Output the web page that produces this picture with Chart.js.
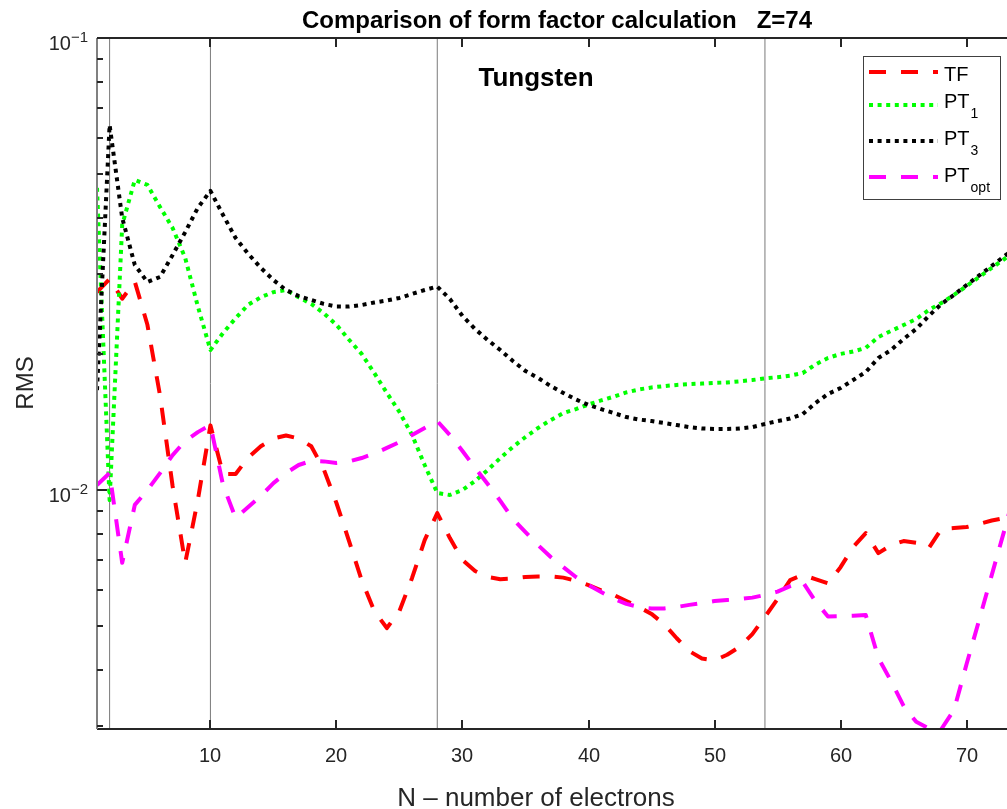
<!DOCTYPE html>
<html>
<head>
<meta charset="utf-8">
<script src="https://cdn.jsdelivr.net/npm/chart.js@4"></script>
<style>
  html, body { margin: 0; padding: 0; overflow: hidden; background: #fff; }
  #wrap { width: 1030px; height: 809px; }
</style>
</head>
<body>
<div id="wrap"><canvas id="rmsChart"></canvas></div>
<script>
// N - number of electrons
const electrons = [1, 2, 3, 4, 5, 6, 7, 8, 9, 10, 11, 12, 13, 14, 15, 16, 17, 18, 19, 20,
  21, 22, 23, 24, 25, 26, 27, 28, 29, 30, 31, 32, 33, 34, 35, 36, 37, 38, 39, 40,
  41, 42, 43, 44, 45, 46, 47, 48, 49, 50, 51, 52, 53, 54, 55, 56, 57, 58, 59, 60,
  61, 62, 63, 64, 65, 66, 67, 68, 69, 70, 71, 72, 73, 74];

// RMS values
const rmsTF = [0.0274, 0.0293, 0.0265, 0.0289, 0.0232, 0.0162, 0.0102, 0.0069, 0.0095, 0.0139,
  0.01085, 0.01085, 0.0118, 0.0125, 0.0130, 0.0132, 0.0130, 0.0125, 0.0111, 0.00936,
  0.00771, 0.00632, 0.0054, 0.00495, 0.0054, 0.00639, 0.00775, 0.00889, 0.00783, 0.0070,
  0.00662, 0.00642, 0.00635, 0.00637, 0.00642, 0.00644, 0.00644, 0.0064, 0.0063, 0.00616,
  0.0060, 0.00586, 0.00568, 0.00551, 0.00532, 0.00505, 0.0047, 0.0044, 0.00424, 0.0042,
  0.00432, 0.0045, 0.0048, 0.00524, 0.00574, 0.00632, 0.00649, 0.00635, 0.00622, 0.00675,
  0.00748, 0.00803, 0.00725, 0.00755, 0.00771, 0.00764, 0.00744, 0.0082, 0.00824, 0.00828,
  0.00841, 0.00856, 0.00867, 0.00876];

const rmsPT1 = [0.0466, 0.0095, 0.0386, 0.0485, 0.0473, 0.0423, 0.0380, 0.0326, 0.0255, 0.0204,
  0.02225, 0.0240, 0.0257, 0.0267, 0.0274, 0.0277, 0.0267, 0.0258, 0.0246, 0.0232,
  0.0215, 0.0200, 0.01815, 0.0164, 0.01488, 0.01323, 0.01136, 0.00985, 0.00975, 0.0100,
  0.01047, 0.01107, 0.01177, 0.01245, 0.0131, 0.01372, 0.01428, 0.0148, 0.0151, 0.01546,
  0.01578, 0.01609, 0.01644, 0.01669, 0.01686, 0.01698, 0.01708, 0.01715, 0.0172, 0.01726,
  0.0173, 0.0174, 0.01751, 0.01766, 0.01777, 0.01791, 0.01815, 0.01895, 0.01959, 0.0200,
  0.02025, 0.02062, 0.0218, 0.02248, 0.02317, 0.02389, 0.02501, 0.02593, 0.02701, 0.02826,
  0.0296, 0.0310, 0.03244, 0.03396];

const rmsPT3 = [0.01664, 0.0642, 0.0400, 0.03147, 0.02885, 0.0296, 0.0331, 0.0372, 0.0421, 0.0459,
  0.0406, 0.0361, 0.0333, 0.0310, 0.02915, 0.0277, 0.02686, 0.02633, 0.0258, 0.02547,
  0.02546, 0.02566, 0.02599, 0.02626, 0.0266, 0.02715, 0.0277, 0.02819, 0.02646, 0.02427,
  0.02271, 0.02147, 0.0204, 0.01929, 0.01833, 0.0177, 0.01698, 0.0164, 0.01586, 0.01542,
  0.0151, 0.0148, 0.0145, 0.01432, 0.01421, 0.01407, 0.01392, 0.01378, 0.01368, 0.01365,
  0.01365, 0.01368, 0.01378, 0.0140, 0.01421, 0.01439, 0.01472, 0.01557, 0.01631, 0.01681,
  0.01751, 0.01824, 0.01959, 0.0204, 0.02158, 0.02271, 0.02427, 0.0258, 0.02701, 0.02841,
  0.02983, 0.03131, 0.03293, 0.03448];

const rmsPTopt = [0.01026, 0.0109, 0.0069, 0.00927, 0.0100, 0.0109, 0.01195, 0.01284, 0.01343, 0.01392,
  0.01026, 0.00867, 0.00917, 0.0097, 0.01036, 0.0109, 0.01136, 0.0116, 0.01157, 0.01148,
  0.01157, 0.01177, 0.01204, 0.01239, 0.01277, 0.01323, 0.01372, 0.01421, 0.01323, 0.0122,
  0.01119, 0.01031, 0.00946, 0.00863, 0.00807, 0.00755, 0.00711, 0.00675, 0.00642, 0.00616,
  0.00595, 0.00575, 0.0056, 0.00551, 0.00547, 0.00547, 0.00551, 0.00557, 0.00562, 0.00568,
  0.00571, 0.00574, 0.00578, 0.00586, 0.00596, 0.00613, 0.00626, 0.00568, 0.00525, 0.00526,
  0.00527, 0.00529, 0.00425, 0.00378, 0.00333, 0.00307, 0.00297, 0.00296, 0.00326, 0.00412,
  0.00516, 0.00649, 0.00815, 0.0103];

// closed shells marked with vertical lines
const shellClosures = [2, 10, 28, 54];

// axis limits and ticks
const xMin = 1, xMax = 74;
const yMin = 0.00296, yMax = 0.1;
const xTicks = [10, 20, 30, 40, 50, 60, 70];
const yMajorTicks = [0.01, 0.1];
const yMajorExp = ['\u22122', '\u22121'];
const yMinorTicks = [0.003, 0.004, 0.005, 0.006, 0.007, 0.008, 0.009,
  0.02, 0.03, 0.04, 0.05, 0.06, 0.07, 0.08, 0.09];

const FONT = "'Liberation Sans', Arial, Helvetica, sans-serif";

const toPoints = arr => arr.map((v, i) => ({ x: electrons[i], y: v }));

const series = [
  { label: 'TF', sub: '', data: rmsTF, color: '#ff0000', dash: [17, 15], order: 4 },
  { label: 'PT', sub: '1', data: rmsPT1, color: '#00ff00', dash: [4, 4.6], order: 3 },
  { label: 'PT', sub: '3', data: rmsPT3, color: '#000000', dash: [4, 4.6], order: 2 },
  { label: 'PT', sub: 'opt', data: rmsPTopt, color: '#ff00ff', dash: [17, 15], order: 1 }
];

const datasets = series.map(s => ({
  label: s.label + s.sub,
  data: toPoints(s.data),
  borderColor: s.color,
  borderWidth: 4,
  borderDash: s.dash,
  borderJoinStyle: 'round',
  pointRadius: 0,
  tension: 0,
  fill: false,
  order: s.order
}));

shellClosures.forEach(n => {
  datasets.push({
    label: 'shell ' + n,
    data: [{ x: n, y: yMin }, { x: n, y: yMax }],
    borderColor: '#7a7a7a',
    borderWidth: 1,
    pointRadius: 0,
    order: 10
  });
});

// draws the MATLAB-like frame, ticks, labels and legend
const matlabFrame = {
  id: 'matlabFrame',
  afterDatasetsDraw(chart) {
    const { ctx, chartArea: a, scales: { x, y } } = chart;
    ctx.save();

    // axes box
    ctx.lineWidth = 2;
    ctx.strokeStyle = '#262626';
    ctx.beginPath();
    ctx.moveTo(a.left, a.top); ctx.lineTo(a.right, a.top);
    ctx.moveTo(a.left, a.bottom); ctx.lineTo(a.right, a.bottom);
    ctx.stroke();
    ctx.strokeStyle = '#808080';
    ctx.beginPath();
    ctx.moveTo(a.left, a.top); ctx.lineTo(a.left, a.bottom);
    ctx.stroke();

    // x ticks (inward, bottom and top)
    ctx.strokeStyle = '#262626';
    ctx.lineWidth = 2;
    ctx.fillStyle = '#262626';
    ctx.font = '20px ' + FONT;
    ctx.textAlign = 'center';
    ctx.textBaseline = 'alphabetic';
    xTicks.forEach(t => {
      const px = Math.round(x.getPixelForValue(t));
      ctx.beginPath();
      ctx.moveTo(px, a.bottom); ctx.lineTo(px, a.bottom - 9);
      ctx.moveTo(px, a.top); ctx.lineTo(px, a.top + 9);
      ctx.stroke();
      ctx.fillText(String(t), px, a.bottom + 33);
    });

    // y ticks (inward, left)
    yMinorTicks.forEach(t => {
      const py = Math.round(y.getPixelForValue(t));
      ctx.beginPath();
      ctx.moveTo(a.left, py); ctx.lineTo(a.left + 6, py);
      ctx.stroke();
    });
    yMajorTicks.forEach((t, i) => {
      const py = Math.round(y.getPixelForValue(t));
      ctx.beginPath();
      ctx.moveTo(a.left, py); ctx.lineTo(a.left + 10, py);
      ctx.stroke();
      ctx.textAlign = 'right';
      ctx.font = '15px ' + FONT;
      const supW = ctx.measureText(yMajorExp[i]).width;
      const right = a.left - 9;
      ctx.fillText(yMajorExp[i], right, py + 4);
      ctx.font = '20px ' + FONT;
      ctx.fillText('10', right - supW, py + 12);
    });

    // axis labels
    ctx.fillStyle = '#262626';
    ctx.textAlign = 'center';
    ctx.font = '26px ' + FONT;
    ctx.fillText('N \u2013 number of electrons', 536, 806);
    ctx.save();
    ctx.translate(33, 383);
    ctx.rotate(-Math.PI / 2);
    ctx.font = '24px ' + FONT;
    ctx.fillText('RMS', 0, 0);
    ctx.restore();

    // title and annotation
    ctx.fillStyle = '#000';
    ctx.font = 'bold 24px ' + FONT;
    ctx.fillText('Comparison of form factor calculation   Z=74', (a.left + a.right) / 2, 28);
    ctx.font = 'bold 26px ' + FONT;
    ctx.fillText('Tungsten', 536, 86);

    // legend
    const lx = 863, ly = 56, lw = 137, lh = 143;
    ctx.fillStyle = '#fff';
    ctx.fillRect(lx, ly, lw, lh);
    ctx.strokeStyle = '#404040';
    ctx.lineWidth = 1;
    ctx.strokeRect(lx + 0.5, ly + 0.5, lw, lh);
    const rowY = [72, 105, 141, 177];
    const textY = [81, 108, 145, 182];
    series.forEach((s, i) => {
      ctx.strokeStyle = s.color;
      ctx.lineWidth = 4;
      ctx.setLineDash(s.dash);
      ctx.beginPath();
      ctx.moveTo(869, rowY[i]); ctx.lineTo(938, rowY[i]);
      ctx.stroke();
      ctx.setLineDash([]);
      ctx.fillStyle = '#000';
      ctx.textAlign = 'left';
      ctx.font = '20px ' + FONT;
      ctx.fillText(s.label, 944, textY[i]);
      if (s.sub) {
        const w = ctx.measureText(s.label).width;
        ctx.font = '14px ' + FONT;
        ctx.fillText(s.sub, 944 + w + 1, textY[i] + 10);
      }
    });

    ctx.restore();
  }
};

const ctx = document.getElementById('rmsChart').getContext('2d');
const rmsChart = new Chart(ctx, {
  type: 'line',
  data: { datasets: datasets },
  options: {
    responsive: true,
    maintainAspectRatio: false,
    animation: false,
    layout: { padding: { left: 97, top: 38, right: 13, bottom: 80 } },
    plugins: {
      legend: { display: false },
      tooltip: { enabled: false }
    },
    scales: {
      x: { type: 'linear', min: xMin, max: xMax, display: false },
      y: { type: 'logarithmic', min: yMin, max: yMax, display: false }
    }
  },
  plugins: [matlabFrame]
});
</script>
</body>
</html>
